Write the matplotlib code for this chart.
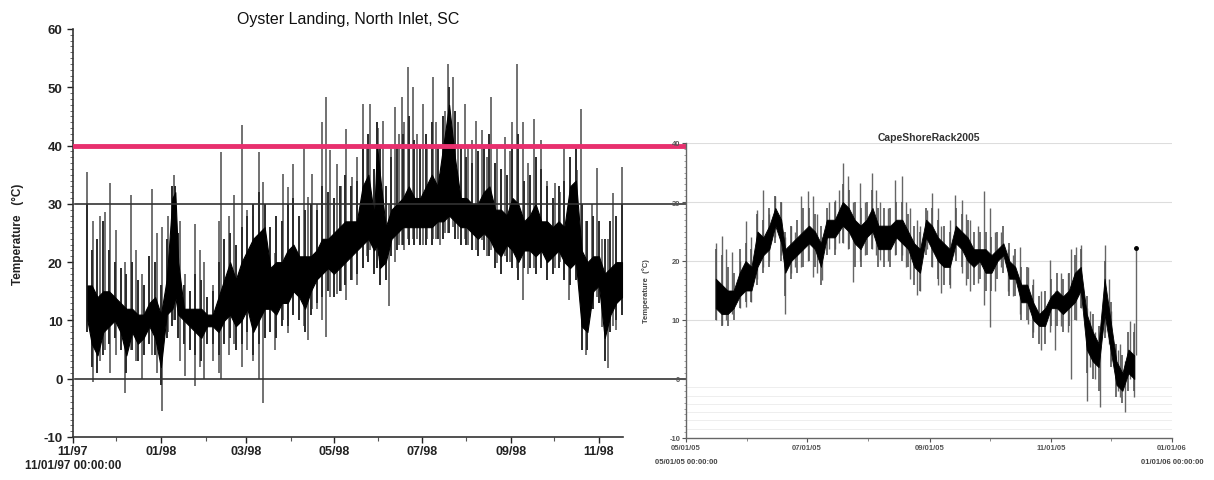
import matplotlib
matplotlib.use("Agg")
import matplotlib.pyplot as plt
from matplotlib.ticker import MultipleLocator, FixedLocator
from matplotlib.transforms import blended_transform_factory

plt.rcParams['font.family'] = ['Liberation Sans', 'DejaVu Sans']
plt.rcParams['axes.unicode_minus'] = False

# ---------------- Left panel: Oyster Landing (days since 11/01/97) ----------------
L_tick_days = [0, 61, 120, 181, 242, 304, 365]
L_tick_labels = ['11/97', '01/98', '03/98', '05/98', '07/98', '09/98', '11/98']
L_minor_days = [30, 92, 151, 212, 273, 334]

L_day = [10, 13, 17, 21, 25, 29, 33, 37, 41, 45, 49, 53, 57, 61, 65, 69, 71, 73, 77, 81,
         85, 89, 93, 97, 101, 105, 109, 113, 117, 121, 125, 129, 133, 137, 141, 145, 149,
         153, 157, 161, 165, 169, 173, 177, 181, 185, 189, 193, 197, 201, 205, 209, 211,
         213, 217, 221, 225, 229, 233, 237, 241, 245, 249, 253, 257, 261, 265, 269, 273,
         277, 281, 285, 289, 293, 297, 301, 305, 309, 313, 317, 321, 325, 329, 333, 337,
         341, 345, 349, 353, 357, 361, 365, 369, 373, 377, 381]
L_lo = [10, 6, 4, 8, 9, 10, 8, 4, 8, 6, 7, 9, 7, 2, 11, 12, 14, 11, 10, 9,
        8, 7, 9, 9, 8, 10, 11, 9, 10, 12, 8, 10, 12, 12, 11, 13, 13,
        15, 14, 12, 15, 17, 18, 19, 18, 19, 20, 21, 22, 23, 24, 22, 23,
        19, 20, 24, 25, 26, 26, 26, 26, 26, 26, 27, 27, 28, 27, 26, 26,
        25, 24, 25, 24, 22, 21, 23, 22, 20, 22, 22, 21, 22, 20, 21, 22,
        20, 19, 20, 9, 8, 15, 16, 7, 11, 13, 14]
L_hi = [16, 16, 14, 15, 15, 14, 13, 12, 12, 11, 11, 13, 14, 11, 17, 31, 32, 20, 12, 12,
        12, 12, 11, 11, 14, 17, 20, 17, 20, 22, 24, 25, 26, 19, 20, 20, 22,
        23, 21, 21, 21, 22, 24, 24, 25, 26, 27, 27, 27, 33, 35, 28, 40,
        35, 26, 29, 30, 31, 33, 31, 31, 33, 35, 33, 40, 47, 38, 31, 31,
        30, 30, 32, 33, 29, 29, 28, 31, 30, 27, 28, 30, 27, 27, 26, 27,
        26, 33, 34, 22, 20, 21, 21, 18, 19, 20, 20]
# medium daily excursions around the dense band
L_med_hi = [30, 22, 24, 27, 22, 20, 19, 18, 20, 17, 16, 21, 20, 16, 24, 33, 33, 25, 16, 15,
            18, 17, 14, 15, 20, 24, 25, 23, 26, 28, 30, 32, 30, 26, 28, 27, 30,
            31, 28, 29, 30, 29, 33, 32, 31, 33, 35, 33, 34, 40, 42, 36, 44,
            40, 33, 38, 40, 42, 45, 41, 40, 42, 44, 40, 45, 50, 46, 40, 38,
            37, 39, 40, 42, 37, 36, 35, 40, 42, 34, 35, 38, 36, 33, 31, 33,
            34, 38, 40, 30, 27, 28, 27, 24, 27, 28, 30]
L_med_lo = [8, 2, 1, 4, 6, 7, 5, 1, 5, 3, 4, 6, 4, -1, 7, 9, 10, 7, 6, 5,
            4, 3, 6, 6, 4, 6, 7, 5, 6, 8, 4, 6, 7, 8, 7, 9, 9,
            11, 10, 8, 11, 13, 14, 15, 14, 15, 16, 17, 18, 19, 20, 18, 19,
            16, 17, 21, 22, 23, 23, 23, 23, 23, 23, 24, 24, 25, 24, 23, 23,
            22, 21, 22, 21, 19, 18, 20, 19, 17, 19, 19, 18, 19, 17, 18, 19,
            17, 16, 17, 5, 5, 12, 13, 3, 8, 10, 11]

L_spk_day = [10, 14, 19, 22, 26, 30, 36, 40, 44, 48, 55, 58, 62, 66, 70, 74, 78, 85, 88, 91,
             97, 101, 103, 108, 112, 117, 121, 125, 129, 132, 140, 146, 149.5, 153, 160,
             163, 165.6, 169, 172.6, 175.6, 178.4, 183, 186, 189.5, 193.4, 197, 201.5, 204,
             206, 209, 212, 215.4, 219.3, 221, 223.4, 226, 228, 230, 232.7, 236, 239, 243,
             246, 249.6, 252, 254.7, 258, 260.4, 263.4, 267, 272, 274, 277, 280, 284, 287,
             290.4, 294, 297, 299.8, 303, 305, 308.4, 312.5, 316, 320, 325, 329, 334.5,
             338, 341, 344, 349.5, 352.3, 356, 360, 363.4, 367, 371, 375, 377, 381]
L_spk_hi = [35.5, 27, 28, 28.6, 33.5, 25.5, 20, 31.5, 22, 18, 32.6, 25, 26, 28, 35, 27, 18, 26.6, 22, 20,
            16, 27, 38.9, 28, 31.5, 43.5, 29, 28, 38.9, 33.8, 21.6, 35.2, 32.9, 36.9, 39.8,
            31.2, 35.2, 30, 44, 48.3, 39.2, 36.9, 33, 42.9, 34.6, 38, 47.2, 40,
            47.2, 36, 43, 44.3, 30, 40, 46.6, 42, 48.3, 44, 53.5, 50, 42, 47.2,
            40, 51.8, 44, 35.2, 46, 54, 51.8, 44, 47.2, 40, 40.9, 44.3, 42.6, 38,
            48.3, 40, 36, 41.5, 39, 44, 54, 44, 37, 44.6, 40.9, 34, 33.5,
            32, 39.5, 30, 35.8, 46.3, 27, 30, 36.1, 24, 24, 31.8, 27, 36.4]
L_spk_lo = [9, -0.5, 3, 5, 1, 4, -2.4, 5, 3, 0, 4, 1, -5.6, 8, 10, 3, 0.4, -1.3, 2, 0,
            3, 1, 0, 4, 6, 2, 5, 3, 0, -4.2, 5, 10, 7.8, 11.2, 9,
            6.7, 12, 12, 10, 7.2, 14, 14.6, 15, 13.5, 17, 16, 19, 21,
            22, 19, 21, 22, 12.4, 22, 20, 23, 23, 22, 24, 24, 24, 23,
            24, 24, 24, 23, 25, 25, 26, 24, 24, 23, 22, 22, 23.8, 21,
            22, 19.8, 20, 21, 20, 20, 19, 13.5, 18, 19, 20, 18.6, 19,
            20, 18, 13.5, 18, 17, 4, 12, 14, 8.9, 1.9, 9, 8.4, 12]

# ---------------- Right panel: CapeShoreRack2005 (days since 05/01/05) ----------------
R_tick_days = [0, 61, 123, 184, 245]
R_tick_labels = ['05/01/05', '07/01/05', '09/01/05', '11/01/05', '01/01/06']
R_minor_days = [31, 92, 153, 214]

R_day = [15, 18, 21, 24, 27, 30, 33, 36, 39, 42, 45, 48, 50, 53, 56, 59, 62, 65, 68, 71, 75,
         79, 82, 85, 88, 91, 94, 97, 100, 103, 106, 109, 112, 115, 118, 121, 124, 127, 130,
         133, 136, 139, 142, 145, 148, 151, 154, 157, 160, 163, 166, 169, 172, 175, 178,
         181, 184, 187, 190, 193, 196, 199, 202, 205, 208, 211, 214, 217, 220, 223, 226]
R_lo = [12, 11, 11, 12, 14, 15, 15, 19, 21, 22, 26, 23, 18, 20, 21, 22, 23, 22, 19, 24, 24,
        26, 25, 23, 22, 24, 25, 22, 22, 22, 24, 23, 22, 19, 18, 24, 22, 20, 19,
        19, 23, 22, 20, 19, 20, 18, 18, 20, 21, 17, 17, 13, 13, 10, 9,
        9, 12, 12, 11, 12, 13, 15, 5, 3, 2, 11, 5, -1, -2, 1, 0]
R_hi = [17, 16, 15, 15, 18, 20, 19, 25, 24, 26, 29, 27, 22, 23, 24, 25, 26, 25, 23, 27, 27,
        30, 29, 27, 26, 27, 29, 26, 26, 26, 27, 27, 25, 23, 22, 27, 26, 24, 23,
        22, 26, 25, 24, 22, 22, 22, 21, 22, 23, 20, 19, 16, 16, 13, 11,
        12, 14, 15, 14, 15, 18, 19, 11, 8, 6, 17, 10, 3, 1, 5, 4]
R_med_hi = [22, 21, 19, 18, 22, 23, 22, 28, 27, 29, 31, 30, 25, 26, 27, 29, 29, 28, 26, 29, 30,
            33, 32, 30, 29, 30, 32, 29, 29, 29, 30, 30, 28, 26, 25, 29, 29, 27, 26,
            25, 29, 28, 27, 25, 25, 25, 24, 25, 26, 23, 22, 19, 19, 16, 14,
            15, 17, 18, 17, 18, 21, 22, 14, 11, 9, 20, 13, 6, 4, 8, 8]
R_med_lo = [10, 9, 9, 10, 12, 13, 13, 16, 18, 19, 23, 20, 14, 17, 18, 19, 20, 19, 16, 21, 21,
            23, 22, 19, 19, 21, 22, 19, 19, 19, 21, 20, 19, 16, 15, 21, 19, 17, 16,
            16, 20, 19, 17, 16, 17, 15, 15, 17, 18, 14, 14, 10, 10, 7, 6,
            6, 9, 9, 8, 9, 10, 12, 1, 0, -2, 7, 2, -3, -4, -2, -2]

R_spk_day = [15, 18, 20, 23, 27, 30, 33, 36, 38.6, 42, 45, 48, 50, 53, 55, 58, 61.7, 64, 66, 68.4,
             72, 75, 77, 79.3, 81.8, 84, 87.7, 90, 93.6, 96, 97.8, 102, 105.4, 108.7, 111,
             113, 116.3, 118, 121.3, 123.8, 127, 128.8, 133, 135.6, 138.9, 141, 143, 147,
             150.4, 153.2, 156, 159, 162.5, 165, 168.3, 172.5, 175, 179.2, 183.4, 186, 189,
             192.6, 194.3, 196.8, 199.3, 201.9, 203.5, 206, 208.6, 211.1, 213, 214.5, 217.8,
             219, 221.2, 223.7, 225.9, 227]
R_spk_hi = [23, 24.2, 22, 21.6, 20, 26.7, 24, 28.7, 32.1, 28, 31, 30, 24, 26, 25, 31, 31.8, 31, 28, 24,
            30, 30.4, 32, 36.6, 34.4, 30, 33.2, 30, 34.9, 32, 30, 29, 33.8, 34.4, 30,
            29, 27, 26, 28.7, 31.5, 29, 26, 27, 31.2, 30.4, 28, 27, 26,
            31.8, 29, 25, 25, 22, 21, 22.4, 19, 17, 15, 20.2, 15, 18,
            17.9, 22, 22.4, 22.7, 12, 11.5, 8, 8, 22.7, 17, 11.5, 5,
            6, 3, 9.9, 9.5, 22.4]
R_spk_lo = [10, 9.1, 10, 11, 12, 12.2, 13, 17, 19, 20, 24, 21, 11.1, 18, 19, 19, 20, 17.3, 18, 16.8,
            22, 22, 23, 23, 22, 16.5, 20, 21, 22, 21, 20.2, 20, 21, 21, 19,
            17, 14.2, 15, 22, 19, 16, 14.5, 15.5, 21, 18, 16, 15, 16.3,
            12.5, 8.8, 15, 19, 15, 14, 11, 9.4, 8, 4.9, 8, 4.9, 9,
            8, 0, 10, 12, -3.7, 2, 0, -4.8, 8, 6, 3, -2,
            -3, -5.6, 0, -3.1, 4]
R_end_day = [227]
R_end_val = [22.2]

# ---------------- Figure ----------------
W, H = 1214, 481
fig = plt.figure(figsize=(W / 100, H / 100), dpi=100)
fig.patch.set_facecolor('white')

axL = fig.add_axes([73 / W, 1 - 438 / H, 550 / W, 408 / H])
axR = fig.add_axes([686 / W, 1 - 439 / H, 486 / W, 295 / H])

# Left panel
axL.set_xlim(0, 381.7)
axL.set_ylim(-10, 60)
axL.vlines(L_spk_day, L_spk_lo, L_spk_hi, color='#4a4a4a', lw=1.1, zorder=2)
axL.vlines(L_day, L_med_lo, L_med_hi, color='#2a2a2a', lw=1.4, zorder=2)
axL.fill_between(L_day, L_lo, L_hi, color='black', lw=0.8, edgecolor='black', zorder=3)
for s in ['top', 'right']:
    axL.spines[s].set_visible(False)
for s in ['left', 'bottom']:
    axL.spines[s].set_color('#333333')
    axL.spines[s].set_linewidth(1.2)
axL.xaxis.set_major_locator(FixedLocator(L_tick_days))
axL.set_xticklabels(L_tick_labels, fontsize=9, fontweight='bold', color='#222222')
axL.xaxis.set_minor_locator(FixedLocator(L_minor_days))
axL.yaxis.set_major_locator(MultipleLocator(10))
axL.yaxis.set_minor_locator(MultipleLocator(1))
axL.tick_params(axis='y', which='major', length=4, labelsize=9.5, width=1, colors='#222222')
axL.tick_params(axis='y', which='minor', length=2, width=0.6, colors='#555555')
axL.tick_params(axis='x', which='major', length=4, width=1, pad=2, colors='#222222')
axL.tick_params(axis='x', which='minor', length=3, width=0.8, colors='#555555')
for t in axL.get_yticklabels():
    t.set_fontweight('bold')
axL.set_title('Oyster Landing, North Inlet, SC', fontsize=11.5, pad=4, color='#111111')
axL.set_ylabel('Temperature   (\u00b0C)', fontsize=8.5, fontweight='bold', labelpad=14, color='#222222')
fig.text(25 / W, 1 - 466 / H, '11/01/97 00:00:00', fontsize=8.5, fontweight='bold',
         ha='left', va='center', color='#222222')

# Right panel
axR.set_xlim(0, 245)
axR.set_ylim(-10, 40)
for yv in [10, 20, 30, 40]:
    axR.axhline(yv, color='#dddddd', lw=0.8, zorder=0)
for yv in [-1.4, -2.8, -4.2, -5.6, -7.0, -8.4]:
    axR.axhline(yv, color='#eeeeee', lw=0.7, zorder=0)
axR.vlines(R_spk_day, R_spk_lo, R_spk_hi, color='#666666', lw=1.0, zorder=2)
axR.vlines(R_day, R_med_lo, R_med_hi, color='#555555', lw=1.2, zorder=2)
axR.fill_between(R_day, R_lo, R_hi, color='black', lw=0.6, edgecolor='black', zorder=3)
axR.plot(R_end_day, R_end_val, 'o', color='black', ms=2.5, zorder=4)
for s in ['top', 'right']:
    axR.spines[s].set_visible(False)
for s in ['left', 'bottom']:
    axR.spines[s].set_color('#666666')
    axR.spines[s].set_linewidth(1.0)
axR.xaxis.set_major_locator(FixedLocator(R_tick_days))
axR.set_xticklabels(R_tick_labels, fontsize=5.5, fontweight='bold', color='#444444')
axR.xaxis.set_minor_locator(FixedLocator(R_minor_days))
axR.yaxis.set_major_locator(MultipleLocator(10))
axR.yaxis.set_minor_locator(MultipleLocator(1))
axR.tick_params(axis='y', which='major', length=3, labelsize=5.5, width=0.8, colors='#555555', pad=1)
axR.tick_params(axis='y', which='minor', length=1.5, width=0.5, colors='#777777')
axR.tick_params(axis='x', which='major', length=3, width=0.8, pad=1, colors='#555555')
axR.tick_params(axis='x', which='minor', length=2, width=0.6, colors='#777777')
for t in axR.get_yticklabels():
    t.set_fontweight('bold')
axR.set_title('CapeShoreRack2005', fontsize=7.5, fontweight='bold', pad=2, color='#333333')
axR.set_ylabel('Temperature  (\u00b0C)', fontsize=5.5, fontweight='bold', labelpad=14, color='#444444')
fig.text(686 / W, 1 - 462 / H, '05/01/05 00:00:00', fontsize=5.5, fontweight='bold',
         ha='center', va='center', color='#444444')
fig.text(1172 / W, 1 - 462 / H, '01/01/06 00:00:00', fontsize=5.5, fontweight='bold',
         ha='center', va='center', color='#444444')

# Long reference lines spanning both panels
tr = blended_transform_factory(fig.transFigure, axL.transData)
x0, x1 = 75 / W, 1083 / W
axL.plot([x0, x1], [40, 40], transform=tr, color='#e8306e', lw=3.5, clip_on=False, zorder=6)
axL.plot([x0, x1], [30, 30], transform=tr, color='#333333', lw=1.2, clip_on=False, zorder=5)
axL.plot([x0, x1], [0, 0], transform=tr, color='#333333', lw=1.2, clip_on=False, zorder=5)

fig.savefig('out.png', dpi=100, facecolor='white')
